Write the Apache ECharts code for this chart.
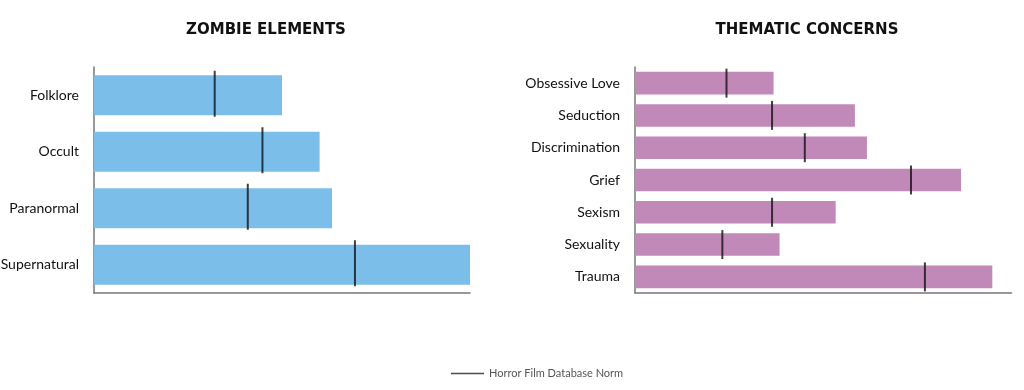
<!DOCTYPE html>
<html>
<head>
<meta charset="utf-8">
<script src="https://cdn.jsdelivr.net/npm/echarts@6/dist/echarts.min.js"></script>
<style>
html,body{margin:0;padding:0;background:#fff;}
#chart{width:1024px;height:390px;}
</style>
</head>
<body>
<div id="chart"></div>
<script>
// Data (values as share of each panel's axis, %)
const zombieCategories = ['Folklore', 'Occult', 'Paranormal', 'Supernatural'];
const zombieValues = [50, 60, 63.3, 100];
const zombieNorms = [32.1, 44.8, 40.9, 69.4];

const themeCategories = ['Obsessive Love', 'Seduction', 'Discrimination', 'Grief', 'Sexism', 'Sexuality', 'Trauma'];
const themeValues = [36.8, 58.4, 61.6, 86.6, 53.3, 38.4, 94.9];
const themeNorms = [24.3, 36.4, 45.1, 73.3, 36.4, 23.2, 77.0];

const titles = ['ZOMBIE ELEMENTS', 'THEMATIC CONCERNS'];
const normName = 'Horror Film Database Norm';

const chart = echarts.init(document.getElementById('chart'), null, {renderer: 'canvas'});

const labelFont = 'Lato';
const axisLine = {show: true, lineStyle: {color: '#777', width: 1.5}};

const option = {
  backgroundColor: '#fff',
  animation: false,
  title: [
    {text: titles[0], left: 261, top: 18, textAlign: 'center',
     textStyle: {fontFamily: 'DejaVu Sans', fontWeight: 'bold', fontSize: 15, color: '#111'}},
    {text: titles[1], left: 802, top: 18, textAlign: 'center',
     textStyle: {fontFamily: 'DejaVu Sans', fontWeight: 'bold', fontSize: 15, color: '#111'}}
  ],
  legend: {
    data: [{name: normName, icon: 'rect'}],
    left: 446, top: 363,
    itemWidth: 33, itemHeight: 1.5, itemGap: 8,
    selectedMode: false,
    textStyle: {fontFamily: labelFont, fontSize: 11, color: '#555'},
    itemStyle: {color: '#222'}
  },
  grid: [
    {left: 94, width: 376, top: 67, height: 226, outerBoundsMode: 'none', containLabel: false},
    {left: 635, width: 376.5, top: 67, height: 226, outerBoundsMode: 'none', containLabel: false}
  ],
  xAxis: [
    {gridIndex: 0, type: 'value', min: 0, max: 100, axisLine: axisLine,
     axisTick: {show: false}, axisLabel: {show: false}, splitLine: {show: false}},
    {gridIndex: 1, type: 'value', min: 0, max: 100, axisLine: axisLine,
     axisTick: {show: false}, axisLabel: {show: false}, splitLine: {show: false}}
  ],
  yAxis: [
    {gridIndex: 0, type: 'category', data: zombieCategories, inverse: true,
     axisLine: axisLine, axisTick: {show: false},
     axisLabel: {fontFamily: labelFont, fontSize: 14, color: '#111', margin: 15}},
    {gridIndex: 1, type: 'category', data: themeCategories, inverse: true,
     axisLine: axisLine, axisTick: {show: false},
     axisLabel: {fontFamily: labelFont, fontSize: 14, color: '#111', margin: 15}}
  ],
  series: [
    {type: 'bar', xAxisIndex: 0, yAxisIndex: 0, data: zombieValues,
     barWidth: '71%', itemStyle: {color: '#7bbee9'}, silent: true},
    {type: 'scatter', name: normName, xAxisIndex: 0, yAxisIndex: 0, data: zombieNorms,
     symbol: 'rect', symbolSize: [2, 46], symbolOffset: [0, -1.5],
     itemStyle: {color: '#111'}, z: 5, silent: true},
    {type: 'bar', xAxisIndex: 1, yAxisIndex: 1, data: themeValues,
     barWidth: '70%', itemStyle: {color: '#c089b7'}, silent: true},
    {type: 'scatter', name: normName, xAxisIndex: 1, yAxisIndex: 1, data: themeNorms,
     symbol: 'rect', symbolSize: [2, 29],
     itemStyle: {color: '#111'}, z: 5, silent: true}
  ]
};
chart.setOption(option);
</script>
</body>
</html>
